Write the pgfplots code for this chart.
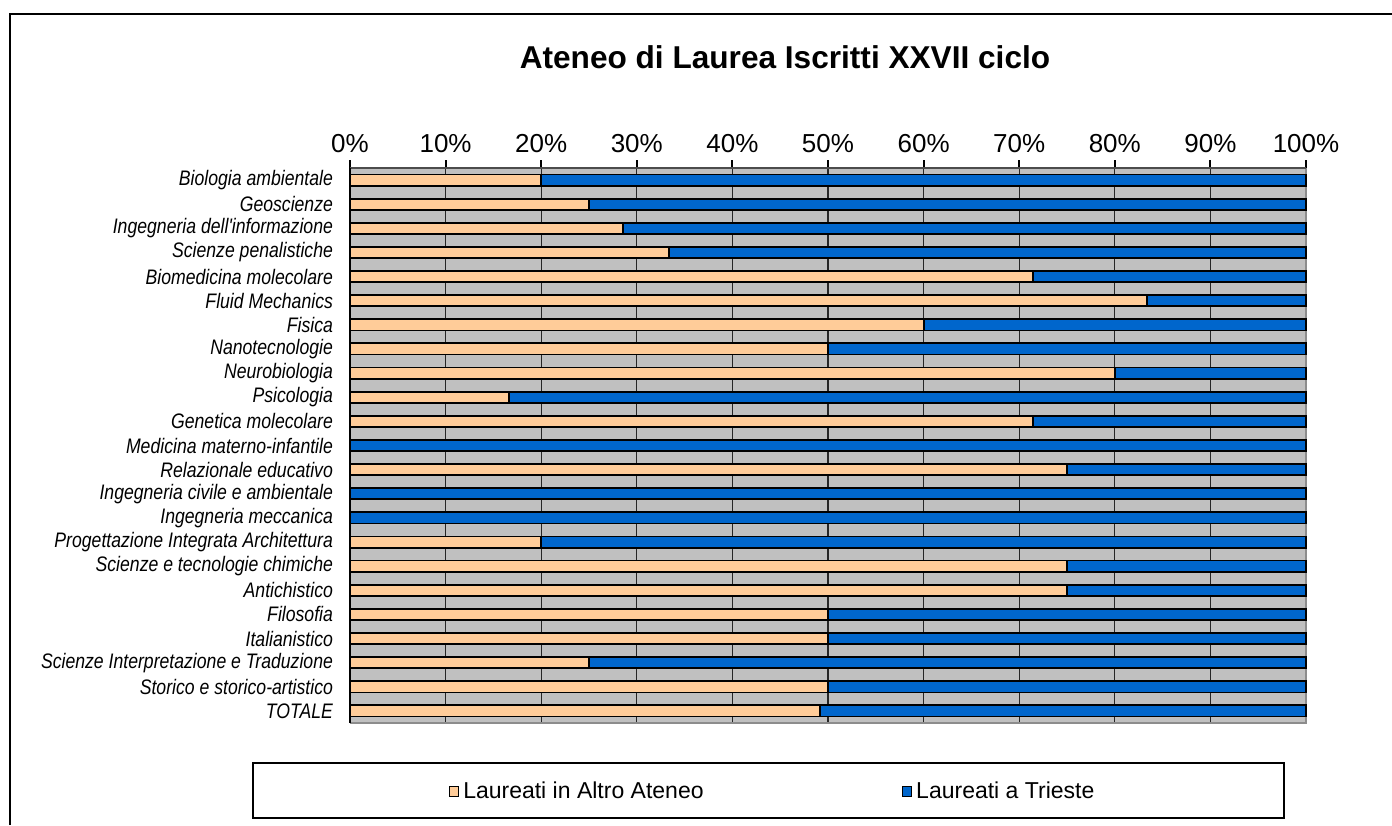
\documentclass[border=0pt]{standalone}
\usepackage{pgfplots}
\pgfplotsset{compat=1.18}
\usepackage{fontspec}
\setmainfont{Liberation Sans}
\newfontfamily\catfont[FakeStretch=0.84]{Liberation Sans}

\definecolor{altro}{RGB}{255,204,153}
\definecolor{trieste}{RGB}{0,102,204}
\definecolor{plotgray}{RGB}{192,192,192}

\begin{document}
\begin{tikzpicture}
% picture is 1392x825 px at 0.5pt per px
\path[use as bounding box] (0,0) rectangle (696pt,412.5pt);
\draw[line width=1pt] (5pt,0) -- (5pt,405.5pt) -- (696pt,405.5pt);
\node[font=\bfseries\fontsize{15.8}{18}\selectfont] at (392.5pt,384pt) {Ateneo di Laurea Iscritti XXVII ciclo};
\draw[line width=0.7pt] (126.5pt,3.5pt) rectangle (642pt,31pt);

\begin{axis}[
    at={(175pt,51pt)}, anchor=south west,
    scale only axis,
    width=478pt, height=277.5pt,
    xbar stacked,
    bar width=5.6pt,
    xmin=0, xmax=100,
    ymin=-0.5, ymax=22.5,
    y dir=reverse,
    axis background/.style={fill=plotgray},
    axis line style={draw=none},
    xtick={0,10,...,100},
    xtick pos=top, xticklabel pos=top,
    tick align=outside,
    major tick length=4pt,
    xtick style={black, line width=1pt},
    xticklabel={\pgfmathprintnumber{\tick}\%},
    xticklabel style={font=\fontsize{13}{15}\selectfont},
    /pgf/number format/assume math mode=true,
    xmajorgrids,
    major grid style={black!85, line width=0.6pt},
    ytick={0,...,22},
    ytick style={draw=none},
    minor ytick={-0.5,0.5,...,22.5},
    minor tick length=2.5pt,
    minor y tick style={black, line width=0.8pt},
    yticklabels={Biologia ambientale, Geoscienze, Ingegneria dell'informazione,
      Scienze penalistiche, Biomedicina molecolare, Fluid Mechanics, Fisica,
      Nanotecnologie, Neurobiologia, Psicologia, Genetica molecolare,
      Medicina materno-infantile, Relazionale educativo,
      Ingegneria civile e ambientale, Ingegneria meccanica,
      Progettazione Integrata Architettura, Scienze e tecnologie chimiche,
      Antichistico, Filosofia, Italianistico,
      Scienze Interpretazione e Traduzione, Storico e storico-artistico, TOTALE},
    yticklabel style={font=\catfont\itshape\fontsize{10.5}{12}\selectfont, xshift=-1pt},
    legend style={draw=none, fill=none, at={(0.443,-0.123)}, anchor=center,
      legend columns=2, font=\fontsize{11.5}{13}\selectfont,
      /tikz/every even column/.append style={column sep=97pt},
      legend cell align=left},
    legend image code/.code={\draw[#1, draw=black, line width=0.7pt] (0pt,-2.5pt) rectangle (4.6pt,2.5pt);},
    clip=false,
]
\addplot[fill=altro, draw=black, line width=0.9pt] coordinates {
    (20,0) (25,1) (28.57,2) (33.33,3) (71.43,4) (83.33,5) (60,6)
    (50,7) (80,8) (16.67,9) (71.43,10) (0,11) (75,12) (0,13) (0,14)
    (20,15) (75,16) (75,17) (50,18) (50,19) (25,20) (50,21) (49.2,22)
};
\addplot[fill=trieste, draw=black, line width=0.9pt] coordinates {
    (80,0) (75,1) (71.43,2) (66.67,3) (28.57,4) (16.67,5) (40,6)
    (50,7) (20,8) (83.33,9) (28.57,10) (100,11) (25,12) (100,13) (100,14)
    (80,15) (25,16) (25,17) (50,18) (50,19) (75,20) (50,21) (50.8,22)
};
\draw[black, line width=0.8pt] (axis cs:0,-0.5) -- (axis cs:0,22.5);
\draw[black!70, line width=0.8pt] (axis cs:0,-0.5) -- (axis cs:100,-0.5);
\draw[black!45, line width=1.2pt] (axis cs:100,-0.5) -- (axis cs:100,22.5) -- (axis cs:0,22.5);
\legend{Laureati in Altro Ateneo, Laureati a Trieste}
\end{axis}
\end{tikzpicture}
\end{document}
